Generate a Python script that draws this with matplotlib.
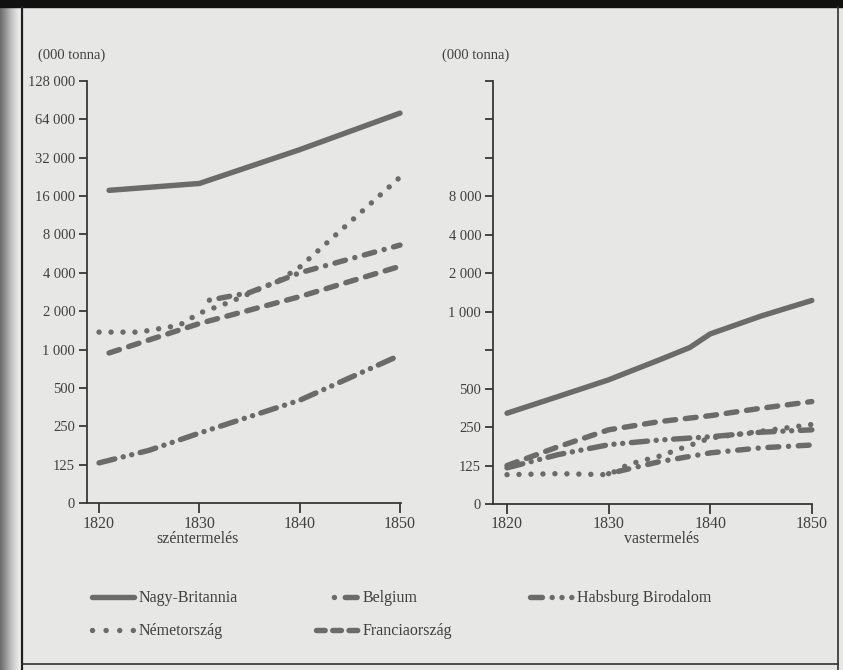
import numpy as np
import matplotlib
matplotlib.use("Agg")
import matplotlib.pyplot as plt
from matplotlib.lines import Line2D
from matplotlib.patches import Rectangle

plt.rcParams['font.family'] = ['Liberation Serif', 'DejaVu Serif']

# ---------------- data (000 tonna) ----------------
# széntermelés (coal)
gb_coal_years = [1821, 1830, 1840, 1850]
gb_coal = [17750, 20100, 37000, 71600]
de_coal_years = [1820, 1824, 1828, 1830, 1833, 1838, 1840, 1845, 1850]
de_coal = [1370, 1370, 1550, 1930, 2350, 3500, 4430, 9970, 22500]
be_coal_years = [1831, 1835, 1840, 1850]
be_coal = [2440, 2800, 4000, 6600]
fr_coal_years = [1821, 1830, 1840, 1850]
fr_coal = [940, 1600, 2600, 4500]
hb_coal_years = [1820, 1825, 1830, 1840, 1850]
hb_coal = [129, 162, 221, 400, 902]

# vastermelés (iron)
gb_iron_years = [1820, 1825, 1830, 1835, 1838, 1840, 1845, 1850]
gb_iron = [321, 433, 586, 840, 1050, 1340, 1850, 2450]
fr_iron_years = [1820, 1825, 1830, 1835, 1840, 1845, 1850]
fr_iron = [125, 175, 238, 276, 307, 351, 396]
hb_iron_years = [1820, 1825, 1830, 1835, 1840, 1845, 1850]
hb_iron = [120, 152, 182, 198, 210, 228, 238]
de_iron_years = [1820, 1825, 1830, 1832, 1835, 1838, 1840, 1845, 1850]
de_iron = [106, 108, 106, 128, 148, 180, 205, 232, 262]
be_iron_years = [1830, 1835, 1840, 1845, 1850]
be_iron = [108, 134, 157, 172, 181]

x_ticks = [1820, 1830, 1840, 1850]
y_tick_values = [62.5 * 2 ** k for k in range(12)]
left_labels = ['0', '125', '250', '500', '1 000', '2 000', '4 000', '8 000',
               '16 000', '32 000', '64 000', '128 000']
right_labels = ['0', '125', '250', '500', '', '1 000', '2 000', '4 000', '8 000',
                '', '', '']

names = ['Nagy-Britannia', 'Belgium', 'Habsburg Birodalom', 'Németország', 'Franciaország']

# ---------------- styles ----------------
LC = '#6b6b6b'
LW = 3.9
AX = '#383838'
TXT = '#404040'
styles = {
    'Nagy-Britannia': dict(linestyle='-'),
    'Belgium': dict(linestyle=(0, (0.01, 1.8, 2.0, 1.8))),
    'Habsburg Birodalom': dict(linestyle=(0, (3.0, 1.6, 0.01, 1.6, 0.01, 1.6))),
    'Németország': dict(linestyle=(0, (0.01, 2.2))),
    'Franciaország': dict(linestyle=(0, (2.0, 1.8))),
}
# legend samples as printed in the key
legend_styles = {
    'Nagy-Britannia': dict(linestyle='-'),
    'Belgium': dict(linestyle=(4.21, (0.01, 2.0, 2.2, 3.3))),
    'Habsburg Birodalom': dict(linestyle=(0, (2.2, 1.8, 0.01, 1.8, 0.01, 1.8, 0.01, 20))),
    'Németország': dict(linestyle=(0, (0.01, 2.5))),
    'Franciaország': dict(linestyle=(0, (1.6, 1.4))),
}

W, H = 843, 670
fig = plt.figure(figsize=(W / 100, H / 100), dpi=100)
fig.patch.set_facecolor('#e7e7e5')

def fx(px):
    return px / W

def fy(py):
    return 1 - py / H

# scanned page edges
grad = np.linspace(0, 1, 64).reshape(1, -1)
bg_ax = fig.add_axes([0, 0, 1, 1], zorder=-10)
bg_ax.axis('off')
bg_ax.imshow(grad, extent=[0, 22, H, 0], cmap='Greys_r', vmin=-0.6, vmax=1.15, aspect='auto')
bg_ax.add_patch(Rectangle((0, 0), W, 7, color='#101010'))
bg_ax.plot([22, 22], [7, H], color='#202020', lw=1.6)
bg_ax.plot([838, 838], [7, H], color='#303030', lw=1.2)
bg_ax.plot([22, 838], [664, 664], color='#303030', lw=1.2)
bg_ax.set_xlim(0, W)
bg_ax.set_ylim(H, 0)

def setup(ax, xlim, labels):
    ax.set_facecolor('none')
    ax.set_yscale('log', base=2)
    ax.set_ylim(62.5, 128000)
    ax.set_xlim(*xlim)
    for s in ['top', 'right']:
        ax.spines[s].set_visible(False)
    for s in ['left', 'bottom']:
        ax.spines[s].set_color(AX)
        ax.spines[s].set_linewidth(1.3)
    ax.set_yticks(y_tick_values)
    ax.set_yticklabels(labels)
    ax.yaxis.set_minor_locator(matplotlib.ticker.NullLocator())
    ax.set_xticks(x_ticks)
    ax.set_xticklabels([str(t) for t in x_ticks])
    ax.tick_params(axis='y', direction='out', length=5.5, width=1.3, color=AX,
                   labelsize=10.5, labelcolor=TXT, pad=3)
    ax.tick_params(axis='x', direction='out', length=7, width=1.3, color=AX,
                   labelsize=11.5, labelcolor=TXT, pad=2)

def draw(ax, x, y, name):
    ax.plot(x, y, color=LC, lw=LW, solid_capstyle='round', dash_capstyle='round',
            solid_joinstyle='round', clip_on=False, **styles[name])

ax1 = fig.add_axes([fx(87), fy(503), fx(401 - 87), (503 - 81) / H])
setup(ax1, (1818.8, 1850.1), left_labels)
draw(ax1, gb_coal_years, gb_coal, 'Nagy-Britannia')
draw(ax1, de_coal_years, de_coal, 'Németország')
draw(ax1, be_coal_years, be_coal, 'Belgium')
draw(ax1, fr_coal_years, fr_coal, 'Franciaország')
draw(ax1, hb_coal_years, hb_coal, 'Habsburg Birodalom')

ax2 = fig.add_axes([fx(493), fy(504), fx(812 - 493), (504 - 81) / H])
setup(ax2, (1818.62, 1850.02), right_labels)
draw(ax2, gb_iron_years, gb_iron, 'Nagy-Britannia')
draw(ax2, fr_iron_years, fr_iron, 'Franciaország')
draw(ax2, hb_iron_years, hb_iron, 'Habsburg Birodalom')
draw(ax2, de_iron_years, de_iron, 'Németország')
draw(ax2, be_iron_years, be_iron, 'Belgium')

fig.text(fx(38), fy(55), '(000 tonna)', fontsize=10.5, color=TXT, va='center', ha='left')
fig.text(fx(442), fy(55), '(000 tonna)', fontsize=10.5, color=TXT, va='center', ha='left')
fig.text(fx(198), fy(539), 'széntermelés', fontsize=11.5, color=TXT, va='center', ha='center')
fig.text(fx(662), fy(539), 'vastermelés', fontsize=11.5, color=TXT, va='center', ha='center')

order = ['Nagy-Britannia', 'Németország', 'Belgium', 'Franciaország', 'Habsburg Birodalom']
handles = [Line2D([], [], color=LC, lw=LW, solid_capstyle='round', dash_capstyle='round',
                  **legend_styles[n]) for n in order]
leg = fig.legend(handles, order, ncol=3, loc='upper left',
                 bbox_to_anchor=(fx(86), fy(584)), frameon=False,
                 fontsize=11.5, handlelength=2.6, handletextpad=0.3,
                 columnspacing=4.9, labelspacing=1.05, borderaxespad=0)
for t in leg.get_texts():
    t.set_color(TXT)

fig.savefig('out.png', dpi=100, facecolor=fig.get_facecolor())
